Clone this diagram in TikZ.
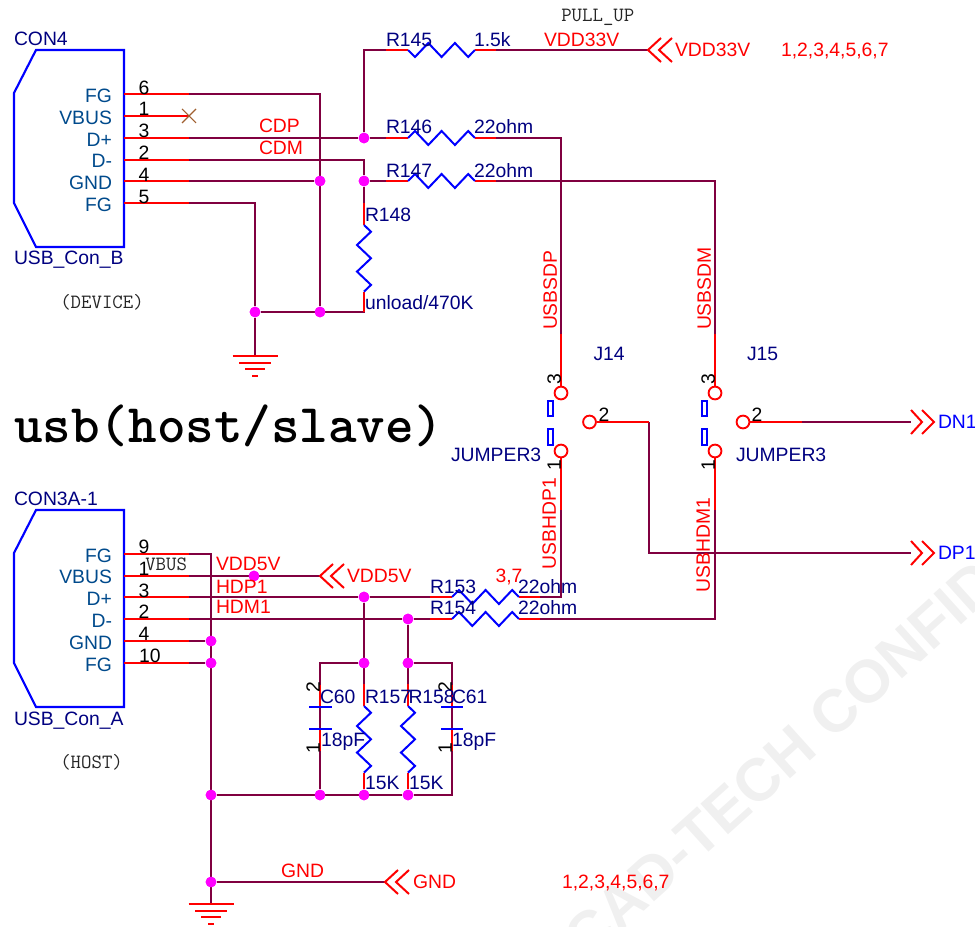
\documentclass[tikz,border=0pt]{standalone}
\usepackage{fontspec}
\setmainfont{Liberation Sans}
\definecolor{wine}{HTML}{800040}
\definecolor{netred}{HTML}{FF0000}
\definecolor{navy}{HTML}{000080}
\definecolor{pinblue}{HTML}{004A8C}
\definecolor{mag}{HTML}{FF00FF}
\definecolor{wmark}{HTML}{F0F0F0}
\definecolor{ncbrown}{HTML}{A06030}
\tikzset{
  wire/.style={draw=wine,line width=1.25pt,line join=miter},
  stub/.style={draw=netred,line width=1.25pt},
  body/.style={draw=blue,line width=1.6pt,line join=miter},
  res/.style={draw=blue,line width=1.5pt,line join=miter},
  plate/.style={draw=blue,line width=1.6pt},
  gnd/.style={draw=netred,line width=1.3pt},
  dot/.style={circle,fill=mag,draw=none,minimum size=8pt,inner sep=0pt},
  pad/.style={circle,draw=netred,fill=white,line width=1.4pt,minimum size=9.6pt,inner sep=0pt},
  jbar/.style={draw=blue,line width=1.5pt,fill=white},
  t/.style={inner sep=0pt,outer sep=0pt,text height=10.4pt,text depth=0pt,font=\fontsize{14.5}{14.5}\selectfont},
  ref/.style={t,text=navy,anchor=west},
  net/.style={t,text=netred,anchor=west},
  pinname/.style={t,text=pinblue,anchor=east},
  num/.style={t,text=black},
  mono/.style={inner sep=0pt,text=black!85,anchor=west,font=\ttfamily\fontsize{15.2}{15.2}\selectfont},
}
\newcommand{\zigh}[2]{\draw[res] (#1) -- ++(7,{#2*7}) -- ++(13.3,{#2*(-14)}) -- ++(13.3,{#2*14}) -- ++(13.3,{#2*(-14)}) -- ++(13.3,{#2*14}) -- ++(6.7,{#2*(-7)});}
\newcommand{\zigv}[1]{\draw[res] (#1) -- ++(7,6.7) -- ++(-14,13.3) -- ++(14,13.3) -- ++(-14,13.3) -- ++(14,13.3) -- ++(-7,6.7);}
\newcommand{\chevL}[1]{\draw[stub,line width=1.5pt] ([shift={(13,-12)}]#1) -- (#1) -- ([shift={(13,12)}]#1) ([shift={(24,-12)}]#1) -- ([shift={(11,0)}]#1) -- ([shift={(24,12)}]#1);}
\newcommand{\chevR}[1]{\draw[stub,line width=1.5pt] ([shift={(-23,-12)}]#1) -- ([shift={(-12,0)}]#1) -- ([shift={(-23,12)}]#1) ([shift={(-12,-12)}]#1) -- (#1) -- ([shift={(-12,12)}]#1);}
\newcommand{\earth}[1]{\draw[gnd] ([shift={(-22.5,0)}]#1) -- ([shift={(22.5,0)}]#1) ([shift={(-16,7)}]#1) -- ([shift={(16,7)}]#1) ([shift={(-10,13)}]#1) -- ([shift={(10,13)}]#1) ([shift={(-3,20)}]#1) -- ([shift={(3,20)}]#1);}
\begin{document}
\begin{tikzpicture}[x=0.75pt,y=-0.75pt]
\useasboundingbox (0,0) rectangle (975,927);
% watermark
\begin{scope}
\clip (0,0) rectangle (975,927);
\node[inner sep=0pt,anchor=west,rotate=42,text=wmark,font=\fontsize{45}{45}\selectfont\bfseries] (wm) at (573,947) {CAD-TECH CONFIDENTIAL};
\end{scope}

% ---------- coordinates: connector pins
\foreach \n/\y in {a/94,b/116,c/138,d/160,e/181,f/203,g/554,h/576,i/597,j/619,k/641,l/663}{
  \coordinate (p\n) at (124,\y);
  \coordinate (q\n) at (189,\y);
}
% bodies
\draw[body] (36,50) -- (124,50) -- (124,247) -- (36,247) -- (14,203) -- (14,93) -- cycle;
\draw[body] (36,510) -- (124,510) -- (124,707) -- (36,707) -- (14,663) -- (14,553) -- cycle;

% junctions
\node[dot] (dA) at (364,138) {};
\node[dot] (dB) at (364,181) {};
\node[dot] (dC) at (320,181) {};
\node[dot] (dD) at (255,312) {};
\node[dot] (dE) at (320,312) {};
\node[dot] (dF) at (254,576) {};
\node[dot] (dG) at (364,597) {};
\node[dot] (dH) at (408,619) {};
\node[dot] (dI) at (211,641) {};
\node[dot] (dJ) at (211,663) {};
\node[dot] (dK) at (364,663) {};
\node[dot] (dL) at (408,663) {};
\node[dot] (dM) at (211,795) {};
\node[dot] (dN) at (320,795) {};
\node[dot] (dO) at (364,795) {};
\node[dot] (dP) at (408,795) {};
\node[dot] (dQ) at (211,882) {};

% resistor ends
\coordinate (r145a) at (408,50);  \coordinate (r145b) at (474.6,50);
\coordinate (r146a) at (408,138); \coordinate (r146b) at (474.6,138);
\coordinate (r147a) at (408,181); \coordinate (r147b) at (474.6,181);
\coordinate (r148a) at (364,225); \coordinate (r148b) at (364,292);
\coordinate (r153a) at (452,597); \coordinate (r153b) at (518.6,597);
\coordinate (r154a) at (452,619); \coordinate (r154b) at (518.6,619);
\coordinate (r157a) at (364,706); \coordinate (r157b) at (364,773);
\coordinate (r158a) at (408,706); \coordinate (r158b) at (408,773);
\coordinate (gu) at (255,356);
\coordinate (gl) at (211,904);
\coordinate (vdd33) at (648,50);
\coordinate (vdd5) at (320,576);
\coordinate (gndp) at (385,882);
\coordinate (dn) at (911,422);
\coordinate (dp) at (911,553);
\coordinate (dntip) at (934,422);
\coordinate (dptip) at (934,553);
\coordinate (nc) at (189,116);
\coordinate (dpc) at (649,422);
\coordinate (capL) at (320,663);
\coordinate (capR) at (452,663);
\coordinate (capRb) at (452,795);
\coordinate (rb) at (364,312);

% jumpers
\node[pad] (j14c) at (561,393) {};
\node[pad] (j14a) at (561,451) {};
\node[pad] (j14b) at (589.5,422) {};
\node[pad] (j15c) at (715,393) {};
\node[pad] (j15a) at (715,451) {};
\node[pad] (j15b) at (743,422) {};
\draw[jbar] (548,400.5) rectangle (552.5,416);
\draw[jbar] (548,428.5) rectangle (552.5,444.5);
\draw[jbar] (702,400.5) rectangle (706.5,416);
\draw[jbar] (702,428.5) rectangle (706.5,444.5);

% ---------- wires upper
\draw[wire] (pa) -| (dE);
\draw[wire] (pc) -- (dA) -- (r146a);
\draw[wire] (dA) |- (r145a);
\draw[wire] (pd) -| (dB);
\draw[wire] (pe) -- (dC);
\draw[wire] (dB) -- (r147a);
\draw[wire] (pf) -| (dD);
\draw[wire] (dD) -- (rb) -- (r148b);
\draw[wire] (dB) -- (r148a);
\draw[wire] (dD) -- (gu);
\draw[wire] (r145b) -- (vdd33);
\draw[wire] (r146b) -| (j14c.north);
\draw[wire] (r147b) -| (j15c.north);
\draw[wire] (dpc) |- (dp);
\draw[wire] (j15b.east) -- (dn);
\draw[wire] (j14a.south) |- (r153b);
\draw[wire] (j15a.south) |- (r154b);
% ---------- wires lower
\draw[wire] (pg) -| (gl);
\draw[wire] (ph) -- (vdd5);
\draw[wire] (pi) -- (dG) -- (r153a);
\draw[wire] (pj) -- (dH) -- (r154a);
\draw[wire] (pk) -- (dI);
\draw[wire] (pl) -- (dJ);
\draw[wire] (dG) -- (r157a);
\draw[wire] (dH) -- (r158a);
\draw[wire] (dK) -- (capL) -- (dN);
\draw[wire] (dL) -- (capR) -- (capRb) -- (dP);
\draw[wire] (dM) -- (dP);
\draw[wire] (dQ) -- (gndp);

% ---------- red stubs
\foreach \n in {a,b,c,d,e,f,g,h,i,j,k,l}{\draw[stub] (p\n) -- (q\n);}
\draw[stub] (386,50) -- (r145a);
\draw[stub] (386,138) -- (r146a);
\draw[stub] (386,181) -- (r147a);
\draw[stub] (r145b) -- (496,50);
\draw[stub] (r146b) -- (496,138);
\draw[stub] (r147b) -- (496,181);
\draw[stub] (364,203) -- (r148a);
\draw[stub] (r148b) -- (rb);
\draw[stub] (430,597) -- (r153a);
\draw[stub] (430,619) -- (r154a);
\draw[stub] (r153b) -- (540,597);
\draw[stub] (r154b) -- (540,619);
\draw[stub] (364,684) -- (r157a);
\draw[stub] (408,684) -- (r158a);
\draw[stub] (r157b) -- (dO);
\draw[stub] (r158b) -- (dP);
\draw[stub] (320,685) -- (320,707);
\draw[stub] (452,685) -- (452,707);
\draw[stub] (320,729) -- (320,751);
\draw[stub] (452,729) -- (452,751);
\draw[stub] (561,334) -- (j14c.north);
\draw[stub] (715,334) -- (j15c.north);
\draw[stub] (j14a.south) -- (561,510);
\draw[stub] (j15a.south) -- (715,510);
\draw[stub] (j14b.east) -- (dpc);
\draw[stub] (j15b.east) -- (802,422);

% dots on top of wires
\foreach \n in {dA,dB,dC,dD,dE,dF,dG,dH,dI,dJ,dK,dL,dM,dN,dO,dP,dQ}{\fill[mag] (\n) circle (4pt);}

% components
\zigh{r145a}{1}
\zigh{r146a}{-1}
\zigh{r147a}{-1}
\zigh{r153a}{-1}
\zigh{r154a}{-1}
\zigv{r148a}
\zigv{r157a}
\zigv{r158a}
\draw[plate] (309,707) -- (332,707) (309,729) -- (332,729);
\draw[plate] (441,707) -- (463,707) (441,729) -- (463,729);
\draw[draw=ncbrown,line width=0.8pt] ([shift={(-7,-7)}]nc) -- ([shift={(7,7)}]nc) ([shift={(-7,7)}]nc) -- ([shift={(7,-7)}]nc);
\earth{gu}
\earth{gl}
\chevL{vdd33}
\chevL{vdd5}
\chevL{gndp}
\chevR{dntip}
\chevR{dptip}

% ---------- texts
\node[ref] (tA) at (14,39) {CON4};
\node[ref] (tB) at (14,258) {USB\_Con\_B};
\node[ref] (tC) at (14,499) {CON3A-1};
\node[ref] (tD) at (14,718.5) {USB\_Con\_A};
\foreach \i/\s/\y in {1/FG/96,2/VBUS/117.5,3/D+/139.5,4/D-/161,5/GND/183,6/FG/205,7/FG/555.5,8/VBUS/577,9/D+/599,10/D-/621,11/GND/643,12/FG/665}{
  \node[pinname] (pn\i) at (112,\y) {\s};
}
\foreach \i/\s/\x/\y in {1/6/144/87.5,2/1/144/109,3/3/144/130.5,4/2/144/152.5,5/4/144/174.5,6/5/144/196.5,7/9/144/546.5,8/1/144/569,9/3/144/590.5,10/2/144/612,11/4/144/634,12/10/150/656,13/2/604/415,14/2/757/415}{
  \node[num] (nu\i) at (\x,\y) {\s};
}
\foreach \i/\s/\x/\y in {1/3/554/379,2/1/554/465,3/3/708/379,4/1/708/465,5/2/313/687,6/1/313/748,7/2/445/687,8/1/445/748}{
  \node[num,rotate=90] (nr\i) at (\x,\y) {\s};
}
\node[ref] (rA) at (386,39.5) {R145};
\node[ref] (rB) at (474,39.5) {1.5k};
\node[ref] (rC) at (386,126.5) {R146};
\node[ref] (rD) at (474,127) {22ohm};
\node[ref] (rE) at (386,170.5) {R147};
\node[ref] (rF) at (474,171) {22ohm};
\node[ref] (rG) at (365,214.5) {R148};
\node[ref] (rH) at (365,302.5) {unload/470K};
\node[ref] (rI) at (593.5,354) {J14};
\node[ref] (rJ) at (747,354) {J15};
\node[ref] (rK) at (451,455) {JUMPER3};
\node[ref] (rL) at (736,455) {JUMPER3};
\node[ref] (rM) at (430,587) {R153};
\node[ref] (rN) at (430,608) {R154};
\node[ref] (rO) at (518,587) {22ohm};
\node[ref] (rP) at (518,608) {22ohm};
\node[ref] (rQ) at (320,696.5) {C60};
\node[ref] (rR) at (365,696.5) {R157};
\node[ref] (rS) at (408.5,696.5) {R158};
\node[ref] (rT) at (452,696.5) {C61};
\node[ref] (rU) at (321,740) {18pF};
\node[ref] (rV) at (452,740) {18pF};
\node[ref] (rW) at (365,783) {15K};
\node[ref] (rX) at (409,783) {15K};

\node[net] (nA) at (544,39.5) {VDD33V};
\node[net] (nB) at (675,50) {VDD33V};
\node[net] (nC) at (781,50) {1,2,3,4,5,6,7};
\node[net] (nD) at (259,126) {CDP};
\node[net] (nE) at (259,148) {CDM};
\node[net] (nF) at (216,564) {VDD5V};
\node[net] (nG) at (216,586.5) {HDP1};
\node[net] (nH) at (216,606.5) {HDM1};
\node[net] (nI) at (347,575.5) {VDD5V};
\node[net] (nJ) at (281,871) {GND};
\node[net] (nK) at (413,882) {GND};
\node[net] (nL) at (562,882) {1,2,3,4,5,6,7};
\node[net] (nM) at (495.5,576) {3,7};
\node[net,rotate=90] (nN) at (550,330) {USBSDP};
\node[net,rotate=90] (nO) at (704,330) {USBSDM};
\node[net,rotate=90] (nP) at (549,569) {USBHDP1};
\node[net,rotate=90] (nQ) at (703,592) {USBHDM1};
\node[t,text=blue,anchor=west] (nR) at (938,422) {DN1};
\node[t,text=blue,anchor=west] (nS) at (938,553) {DP1};

\node[mono] (mA) at (561,17) {PULL\_UP};
\node[mono] (mB) at (60,302) {(DEVICE)};
\node[mono] (mC) at (145,564) {VBUS};
\node[mono] (mD) at (60,762) {(HOST)};
\node[inner sep=0pt,anchor=west,text=black,font=\ttfamily\bfseries\fontsize{40.8}{40.8}\selectfont] (big) at (14,426) {usb(host/slave)};
\end{tikzpicture}
\end{document}
